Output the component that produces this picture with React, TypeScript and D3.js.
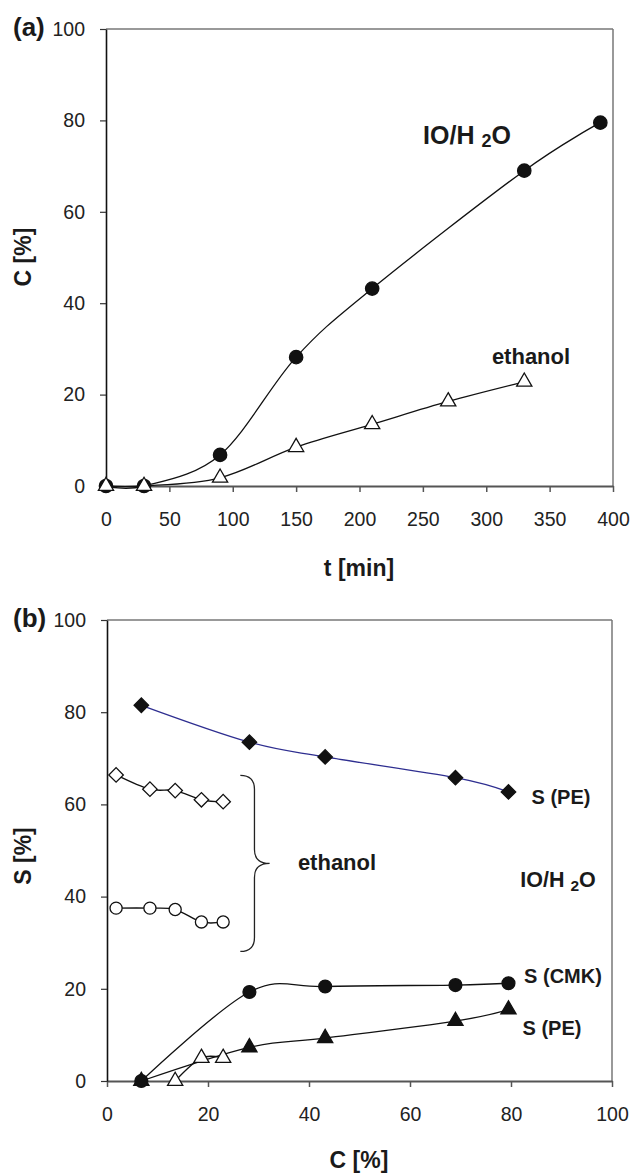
import React, { useEffect, useRef } from 'react';
import * as d3 from 'd3';

// panel (a): conversion vs time
const timeIO = [0, 30, 90, 150, 210, 330, 390];
const convIO = [0, 0, 6.8, 28.2, 43.2, 69, 79.5];
const timeEth = [0, 30, 90, 150, 210, 270, 330];
const convEth = [0, 0, 1.8, 8.5, 13.5, 18.5, 22.8];
const tTicks = [0, 50, 100, 150, 200, 250, 300, 350, 400];
const cTicks = [0, 20, 40, 60, 80, 100];

// panel (b): selectivity vs conversion
const convB_IO = [6.8, 28.2, 43.2, 69, 79.5];
const selPE_IO = [81.5, 73.5, 70.3, 65.8, 62.7];
const selCMK_IO = [0, 19.3, 20.5, 20.8, 21.2];
const selPE2_IO = [0, 7.3, 9.3, 13, 15.5];
const convB_Eth = [1.8, 8.5, 13.5, 18.7, 23];
const selDia_Eth = [66.4, 63.3, 63, 61, 60.6];
const selCirc_Eth = [37.5, 37.5, 37.2, 34.5, 34.5];
const convTri_Eth = [13.5, 18.7, 23];
const selTri_Eth = [0, 5, 5];
const cbTicks = [0, 20, 40, 60, 80, 100];
const sTicks = [0, 20, 40, 60, 80, 100];

const FONT = '"Liberation Sans", Arial, Helvetica, sans-serif';

type Pt = [number, number];
const zip = (a: number[], b: number[]): Pt[] => a.map((v, i) => [v, b[i]]);

export default function App() {
  const ref = useRef<SVGSVGElement>(null);

  useEffect(() => {
    if (!ref.current) return;
    document.body.style.margin = '0';
    const svg = d3.select(ref.current);
    svg.selectAll('*').remove();
    svg.style('font-family', FONT);

    const curve = d3.curveCardinal.tension(0);

    const drawFrame = (
      x: d3.ScaleLinear<number, number>,
      y: d3.ScaleLinear<number, number>,
      xt: number[],
      yt: number[]
    ) => {
      const [x0, x1] = x.range();
      const [y0, y1] = y.range();
      const g = svg.append('g');
      // top and right border
      g.append('line').attr('x1', x0).attr('x2', x1).attr('y1', y1).attr('y2', y1)
        .attr('stroke', '#777').attr('stroke-width', 1.5);
      g.append('line').attr('x1', x1).attr('x2', x1).attr('y1', y1).attr('y2', y0)
        .attr('stroke', '#777').attr('stroke-width', 1.5);

      const ax = g.append('g').attr('transform', `translate(0,${y0})`)
        .call(d3.axisBottom(x).tickValues(xt).tickSize(6).tickPadding(20).tickSizeOuter(0));
      ax.select('.domain').attr('stroke', '#555').attr('stroke-width', 2);
      ax.selectAll('.tick line').attr('stroke', '#555').attr('stroke-width', 1.5);
      ax.selectAll('text').attr('font-size', 19.5).attr('fill', '#222').attr('font-family', FONT);

      const ay = g.append('g').attr('transform', `translate(${x0},0)`)
        .call(d3.axisLeft(y).tickValues(yt).tickSize(6).tickPadding(15).tickSizeOuter(0));
      ay.select('.domain').attr('stroke', '#111').attr('stroke-width', 1.6);
      ay.selectAll('.tick line').attr('stroke', '#333').attr('stroke-width', 1.2);
      ay.selectAll('text').attr('font-size', 19.5).attr('fill', '#222').attr('font-family', FONT);
    };

    const line = (
      x: d3.ScaleLinear<number, number>,
      y: d3.ScaleLinear<number, number>,
      pts: Pt[],
      color = '#111'
    ) => {
      svg.append('path')
        .attr('d', d3.line<Pt>().x(d => x(d[0])).y(d => y(d[1])).curve(curve)(pts))
        .attr('fill', 'none').attr('stroke', color).attr('stroke-width', 1.3);
    };

    const markers = (
      x: d3.ScaleLinear<number, number>,
      y: d3.ScaleLinear<number, number>,
      pts: Pt[],
      shape: 'circle' | 'triangle' | 'diamond',
      filled: boolean,
      size: number
    ) => {
      const sym = shape === 'circle' ? d3.symbolCircle : shape === 'triangle' ? d3.symbolTriangle : d3.symbolSquare;
      const rot = shape === 'diamond' ? ' rotate(45)' : '';
      svg.append('g').selectAll('path').data(pts).enter().append('path')
        .attr('d', d3.symbol(sym, size)())
        .attr('transform', d => `translate(${x(d[0])},${y(d[1])})${rot}`)
        .attr('fill', filled ? '#111' : '#fff')
        .attr('stroke', '#111').attr('stroke-width', 1.3);
    };

    const boldText = (x: number, y: number, txt: string, size = 20, anchor = 'middle') =>
      svg.append('text').attr('x', x).attr('y', y).attr('text-anchor', anchor)
        .attr('dominant-baseline', 'central').attr('font-weight', 'bold')
        .attr('font-size', size).attr('fill', '#1a1a1a').text(txt);

    const ioLabel = (x: number, y: number, size: number) => {
      const t = svg.append('text').attr('x', x).attr('y', y).attr('text-anchor', 'middle')
        .attr('dominant-baseline', 'central').attr('font-weight', 'bold')
        .attr('font-size', size).attr('fill', '#1a1a1a');
      t.append('tspan').text('IO/H ');
      t.append('tspan').attr('font-size', size * 0.72).attr('dy', size * 0.22).text('2');
      t.append('tspan').attr('dy', -size * 0.22).text('O');
    };

    const vTitle = (x: number, y: number, txt: string) =>
      svg.append('text').attr('transform', `translate(${x},${y}) rotate(-90)`)
        .attr('text-anchor', 'middle').attr('dominant-baseline', 'central')
        .attr('font-weight', 'bold').attr('font-size', 23).attr('fill', '#1a1a1a').text(txt);

    // ---------- panel (a) ----------
    const xa = d3.scaleLinear().domain([0, 400]).range([106, 613]);
    const ya = d3.scaleLinear().domain([0, 100]).range([486, 29]);
    drawFrame(xa, ya, tTicks, cTicks);
    line(xa, ya, zip(timeIO, convIO));
    line(xa, ya, zip(timeEth, convEth));
    markers(xa, ya, zip(timeIO, convIO), 'circle', true, 140);
    markers(xa, ya, zip(timeEth, convEth), 'triangle', false, 100);

    ioLabel(467, 135, 25);
    boldText(531, 356, 'ethanol', 22);
    boldText(359, 568, 't [min]', 23);
    vTitle(23, 257, 'C [%]');
    boldText(13, 27, '(a)', 26, 'start');

    // ---------- panel (b) ----------
    const xb = d3.scaleLinear().domain([0, 100]).range([107, 612]);
    const yb = d3.scaleLinear().domain([0, 100]).range([1081, 620]);
    drawFrame(xb, yb, cbTicks, sTicks);

    line(xb, yb, zip(convB_IO, selPE_IO), '#2e2e90');
    line(xb, yb, zip(convB_IO, selCMK_IO));
    line(xb, yb, zip(convB_IO, selPE2_IO));
    line(xb, yb, zip(convB_Eth, selDia_Eth));
    line(xb, yb, zip(convB_Eth, selCirc_Eth));
    line(xb, yb, zip(convTri_Eth, selTri_Eth));

    markers(xb, yb, zip(convB_IO, selPE_IO), 'diamond', true, 105);
    markers(xb, yb, zip(convB_Eth, selDia_Eth), 'diamond', false, 105);
    markers(xb, yb, zip(convB_Eth, selCirc_Eth), 'circle', false, 115);
    markers(xb, yb, zip(convTri_Eth, selTri_Eth), 'triangle', false, 100);
    markers(xb, yb, zip(convB_IO, selPE2_IO), 'triangle', true, 100);
    markers(xb, yb, zip(convB_IO, selCMK_IO), 'circle', true, 130);

    // curly brace grouping the ethanol series
    const bx0 = xb(26.4), bx1 = xb(29.2), bx2 = xb(32.2);
    const bt = yb(66.3), bm = yb(47.2), bb = yb(28.1);
    const brace = d3.path();
    brace.moveTo(bx0, bt);
    brace.quadraticCurveTo(bx1, bt, bx1, bt + 14);
    brace.lineTo(bx1, bm - 14);
    brace.quadraticCurveTo(bx1, bm, bx2, bm);
    brace.quadraticCurveTo(bx1, bm, bx1, bm + 14);
    brace.lineTo(bx1, bb - 14);
    brace.quadraticCurveTo(bx1, bb, bx0, bb);
    svg.append('path').attr('d', brace.toString()).attr('fill', 'none')
      .attr('stroke', '#222').attr('stroke-width', 1.3);

    boldText(337, 862, 'ethanol', 22);
    boldText(561, 797, 'S (PE)', 20);
    ioLabel(558, 880, 21.5);
    boldText(563, 976, 'S (CMK)', 20);
    boldText(552, 1028, 'S (PE)', 20);
    boldText(359, 1160, 'C [%]', 23);
    vTitle(23, 856, 'S [%]');
    boldText(13, 618, '(b)', 26, 'start');
  }, []);

  return <svg ref={ref} width={630} height={1173} style={{ display: 'block', background: '#fff' }} />;
}
